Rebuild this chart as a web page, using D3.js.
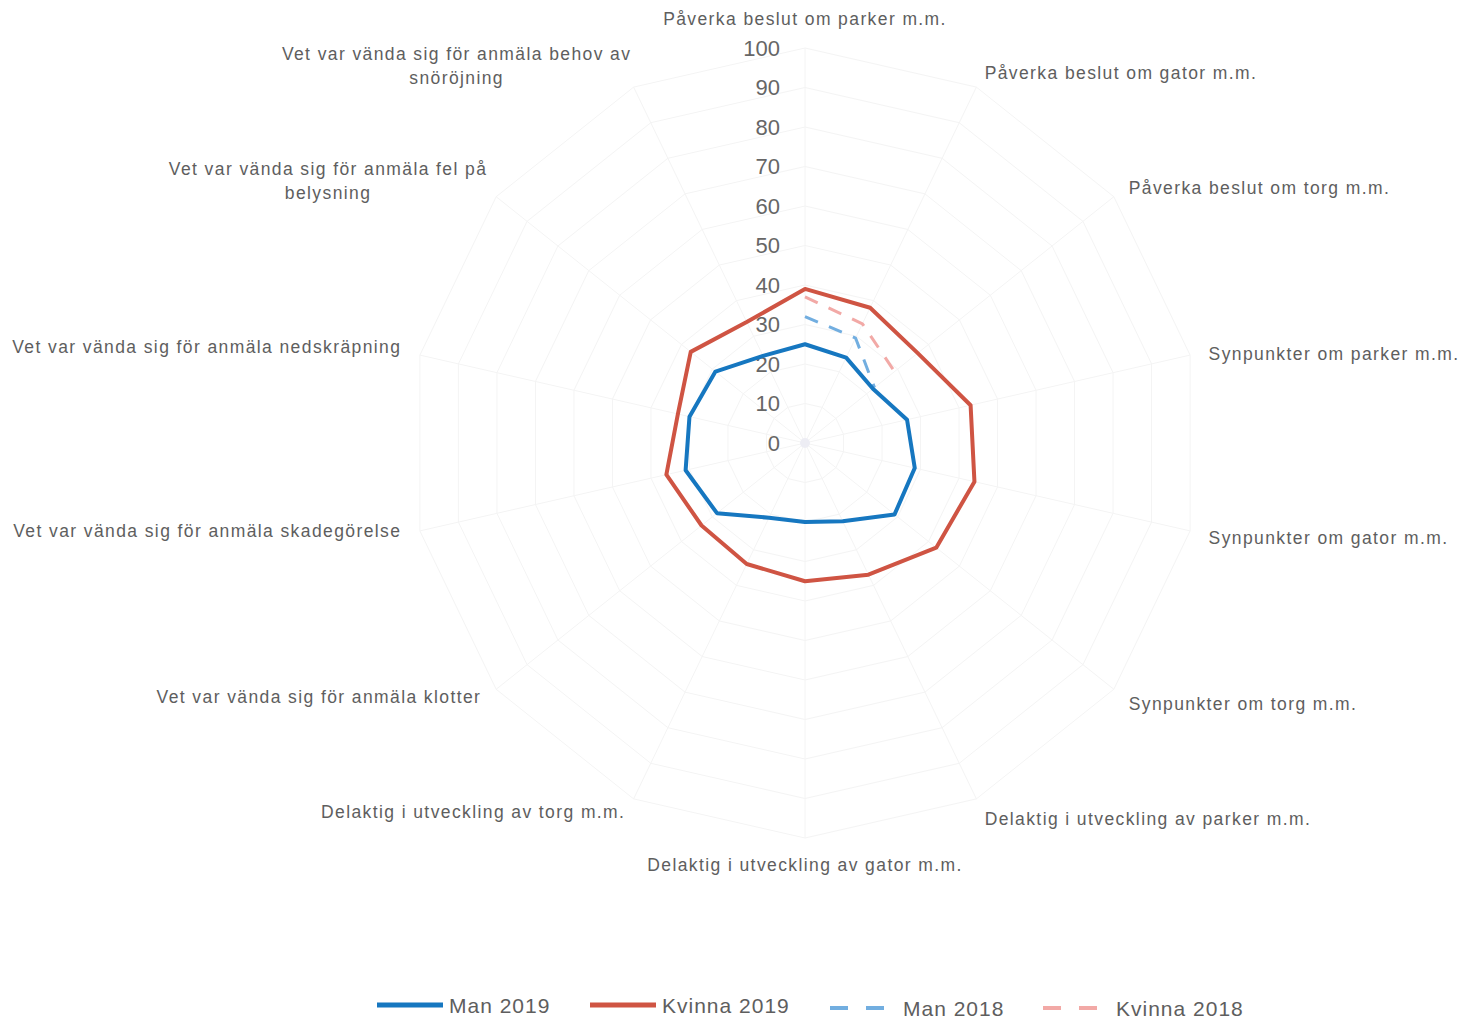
<!DOCTYPE html>
<html>
<head>
<meta charset="utf-8">
<script src="https://cdn.jsdelivr.net/npm/d3@7"></script>
<style>
  html, body { margin: 0; padding: 0; background: #fff; }
  svg { display: block; font-family: "Liberation Sans", Arial, sans-serif; }
</style>
</head>
<body>
<svg id="chart" width="1466" height="1023"></svg>
<script>
// ---- Data ----
const categories = [
  "Påverka beslut om parker m.m.",
  "Påverka beslut om gator m.m.",
  "Påverka beslut om torg m.m.",
  "Synpunkter om parker m.m.",
  "Synpunkter om gator m.m.",
  "Synpunkter om torg m.m.",
  "Delaktig i utveckling av parker m.m.",
  "Delaktig i utveckling av gator m.m.",
  "Delaktig i utveckling av torg m.m.",
  "Vet var vända sig för anmäla klotter",
  "Vet var vända sig för anmäla skadegörelse",
  "Vet var vända sig för anmäla nedskräpning",
  "Vet var vända sig för anmäla fel på|belysning",
  "Vet var vända sig för anmäla behov av|snöröjning"
];
const man2019    = [25, 24, 22, 26.5, 28.5, 29, 22, 20, 21, 28.5, 31, 30, 29, 24.5];
const kvinna2019 = [39, 38, 36.5, 43, 44, 42.5, 37, 35, 34, 33.5, 36, 33, 37, 34];
const man2018    = [32, 29.5, 22.5, null, null, null, null, null, null, null, null, null, null, null];
const kvinna2018 = [37, 33.5, 29, null, null, null, null, null, null, null, null, null, null, null];
const tickValues = [0, 10, 20, 30, 40, 50, 60, 70, 80, 90, 100];
const seriesNames = ["Man 2019", "Kvinna 2019", "Man 2018", "Kvinna 2018"];

// ---- Layout ----
const cx = 805, cy = 443, R = 395;
const svg = d3.select("#chart");
const n = categories.length;
const angle = d3.scaleLinear().domain([0, n]).range([0, 2 * Math.PI]);
const r = d3.scaleLinear().domain([0, 100]).range([0, R]);
const pt = (i, v) => [cx + Math.sin(angle(i)) * r(v), cy - Math.cos(angle(i)) * r(v)];

const g = svg.append("g");

// grid polygons
tickValues.filter(t => t > 0).forEach(t => {
  g.append("polygon")
    .attr("points", d3.range(n).map(i => pt(i, t).join(",")).join(" "))
    .attr("fill", "none").attr("stroke", "#f4f4f4").attr("stroke-width", 1);
});
// spokes
d3.range(n).forEach(i => {
  const p = pt(i, 100);
  g.append("line").attr("x1", cx).attr("y1", cy).attr("x2", p[0]).attr("y2", p[1])
    .attr("stroke", "#f4f4f4").attr("stroke-width", 1);
});
g.append("circle").attr("cx", cx).attr("cy", cy).attr("r", 5).attr("fill", "#ededf4");

// tick labels
g.selectAll("text.tick").data(tickValues).enter().append("text")
  .attr("class", "tick")
  .attr("x", cx - 25).attr("y", d => cy - r(d))
  .attr("text-anchor", "end").attr("dominant-baseline", "central")
  .attr("font-size", 22).attr("fill", "#666")
  .text(d => d);

// series
const series = [
  {name: seriesNames[0], values: man2019, color: "#1677c0", width: 4, dash: null},
  {name: seriesNames[1], values: kvinna2019, color: "#cf5443", width: 4, dash: null},
  {name: seriesNames[2], values: man2018, color: "#72aee0", width: 3, dash: "14,12"},
  {name: seriesNames[3], values: kvinna2018, color: "#f2a9a6", width: 3, dash: "14,12"}
];
const radial = d3.lineRadial()
  .angle((d, i) => angle(d.i))
  .radius(d => r(d.v))
  .defined(d => d.v != null);

[series[3], series[2], series[1], series[0]].forEach(s => {
  const pts = s.values.map((v, i) => ({i, v}));
  const complete = s.values.every(v => v != null);
  const line = complete ? radial.curve(d3.curveLinearClosed) : radial.curve(d3.curveLinear);
  g.append("path")
    .attr("transform", `translate(${cx},${cy})`)
    .attr("d", line(pts))
    .attr("fill", "none")
    .attr("stroke", s.color)
    .attr("stroke-width", s.width)
    .attr("stroke-linejoin", "round")
    .attr("stroke-dasharray", s.dash);
});

// axis labels
const labelR = 414;
categories.forEach((c, i) => {
  const a = angle(i);
  const sx = Math.sin(a), cyv = Math.cos(a);
  let x, y, anchor;
  if (Math.abs(sx) < 1e-6) {
    x = cx; anchor = "middle";
    y = cy - (cyv > 0 ? 424 : -422) * 1;
  } else {
    x = cx + sx * labelR;
    y = cy - cyv * labelR + (sx > 0 ? 3 : -4);
    anchor = sx > 0 ? "start" : "end";
  }
  const lines = c.split("|");
  const t = g.append("text")
    .attr("font-size", 17.5).attr("fill", "#5e5e5e")
    .attr("letter-spacing", "1.4px")
    .attr("dominant-baseline", "central");
  lines.forEach((ln, k) => {
    t.append("tspan").attr("x", x).attr("y", y + (k - (lines.length - 1) / 2) * 24).text(ln);
  });
  if (lines.length > 1) {
    const w = d3.max(t.selectAll("tspan").nodes(), nd => nd.getComputedTextLength());
    t.attr("text-anchor", "middle");
    t.selectAll("tspan").attr("x", x - w / 2 + 6);
  } else {
    t.attr("text-anchor", anchor);
  }
});

// legend
const legendX = [377, 590, 830, 1043];
const legendY = 1005;
series.forEach((s, k) => {
  const lx = legendX[k];
  svg.append("line")
    .attr("x1", lx).attr("x2", s.dash ? lx + 54 : lx + 66)
    .attr("y1", legendY + (s.dash ? 3 : 0)).attr("y2", legendY + (s.dash ? 3 : 0))
    .attr("stroke", s.color).attr("stroke-width", s.dash ? 4 : 5)
    .attr("stroke-dasharray", s.dash ? "18,18" : null);
  svg.append("text")
    .attr("x", s.dash ? lx + 73 : lx + 72).attr("y", legendY + (s.dash ? 3 : 0))
    .attr("dominant-baseline", "central")
    .attr("font-size", 21).attr("fill", "#5e5e5e").attr("letter-spacing", "1px")
    .text(s.name);
});
</script>
</body>
</html>
